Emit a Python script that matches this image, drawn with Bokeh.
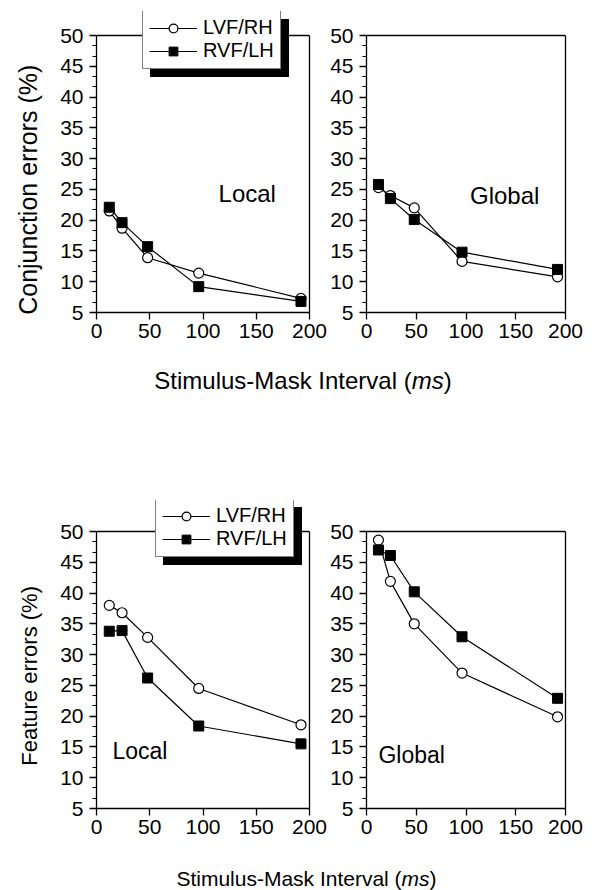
from bokeh.plotting import figure
from bokeh.layouts import column, row
from bokeh.models import (Range1d, SingleIntervalTicker, FixedTicker, Legend,
                          LegendItem, Label, Div, Span, LinearAxis)
from bokeh.core.properties import value
from bokeh.embed import file_html
from bokeh.resources import INLINE

# ---- data -------------------------------------------------------------
interval_ms = [12, 24, 48, 96, 192]
x_ticks = [0, 50, 100, 150, 200]

conj_local_lvf = [21.5, 18.7, 13.9, 11.4, 7.3]
conj_local_rvf = [22.1, 19.6, 15.7, 9.2, 6.8]
conj_global_lvf = [25.3, 24.0, 22.0, 13.3, 10.8]
conj_global_rvf = [25.8, 23.5, 20.1, 14.8, 12.0]

feat_local_lvf = [38.0, 36.8, 32.8, 24.5, 18.6]
feat_local_rvf = [33.8, 33.9, 26.2, 18.4, 15.5]
feat_global_lvf = [48.6, 41.9, 35.0, 27.0, 19.9]
feat_global_rvf = [47.0, 46.1, 40.2, 32.9, 22.9]

series_names = ["LVF/RH", "RVF/LH"]
xlabel_text = "Stimulus-Mask Interval (<i>ms</i>)"

FONT = "Liberation Sans"
FRAME_H = 277          # pixel height of the 5..50 box
Y_LO, Y_HI = 5, 50
NBSP = "\u00a0"        # padding that pushes a y title down along the axis


def panel(width, left, right, top, bottom, headroom=0, ylabel=None, ylabel_size="24px"):
    """One panel; `headroom` adds pixels above the 50 line so the legend can sit there."""
    y_top = Y_HI + headroom * (Y_HI - Y_LO) / FRAME_H
    p = figure(width=width, height=top + headroom + FRAME_H + bottom,
               min_border_left=left, min_border_right=right,
               min_border_top=top, min_border_bottom=bottom,
               x_range=Range1d(0, 200), y_range=Range1d(Y_LO, y_top),
               output_backend="svg", toolbar_location=None, tools="")
    p.grid.visible = False
    p.background_fill_color = "white"
    p.border_fill_color = "white"
    p.xaxis.ticker = FixedTicker(ticks=x_ticks)
    p.yaxis.ticker = SingleIntervalTicker(interval=5, num_minor_ticks=3)
    p.yaxis.bounds = (Y_LO, Y_HI)
    for ax in p.axis:
        ax.axis_line_color = "black"
        ax.axis_line_width = 1.3
        ax.major_tick_line_color = "black"
        ax.major_tick_line_width = 1.3
        ax.major_tick_in = 0
        ax.major_tick_out = 7
        ax.minor_tick_line_color = "black"
        ax.minor_tick_line_width = 1.0
        ax.minor_tick_in = 0
        ax.minor_tick_out = 4
        ax.major_label_text_font = FONT
        ax.major_label_text_font_size = "21px"
        ax.major_label_text_color = "black"
    p.xaxis.minor_tick_line_color = None
    p.xaxis.major_label_standoff = 4
    p.yaxis.major_label_standoff = 6
    if ylabel:
        p.yaxis.axis_label = ylabel
        p.yaxis.axis_label_text_font = FONT
        p.yaxis.axis_label_text_font_size = ylabel_size
        p.yaxis.axis_label_text_font_style = "normal"
        p.yaxis.axis_label_text_color = "black"
        p.yaxis.axis_label_standoff = 15

    # closed box: right edge as a bare axis, top edge as a span at 50
    p.outline_line_color = None
    right_edge = LinearAxis(ticker=FixedTicker(ticks=[]), bounds=(Y_LO, Y_HI),
                            axis_line_color="black", axis_line_width=1.3,
                            major_tick_line_color=None, minor_tick_line_color=None,
                            major_label_text_font_size="0px")
    p.add_layout(right_edge, "right")
    p.add_layout(Span(location=Y_HI, dimension="width", line_color="black",
                      line_width=1.3))
    return p


def draw_series(p, y_lvf, y_rvf):
    l1 = p.line(interval_ms, y_lvf, line_color="black", line_width=1.2)
    l2 = p.line(interval_ms, y_rvf, line_color="black", line_width=1.2)
    c1 = p.scatter(interval_ms, y_lvf, marker="circle", size=10,
                   fill_color="white", line_color="black", line_width=1.2)
    s2 = p.scatter(interval_ms, y_rvf, marker="square", size=10,
                   fill_color="black", line_color="black", line_width=1.0)
    return [(series_names[0], [l1, c1]), (series_names[1], [l2, s2])]


GLYPH_W, STANDOFF, LABEL_W = 48, 6, 71   # LABEL_W: width of "LVF/RH" at 20px
MIN_LABEL_W = 20                          # Legend.label_width default (reserved even when empty)


def legend_style(**kw):
    base = dict(glyph_width=GLYPH_W, glyph_height=22, label_height=22,
                label_standoff=STANDOFF, padding=6, spacing=0, margin=0,
                label_text_font=FONT, label_text_font_size="20px",
                border_line_width=1.2, label_text_color="black")
    base.update(kw)
    return base


def add_legend(p, entries, x, y, shadow=8):
    """Boxed legend with a solid drop shadow; (x, y) = left / bottom offset inside the frame."""
    # shadow: same footprint, no label text, all black
    back_items = [LegendItem(label=value(""), renderers=rs) for _, rs in entries]
    back = Legend(items=back_items, location=(x + shadow, y - shadow),
                  **legend_style(glyph_width=GLYPH_W + STANDOFF + LABEL_W - MIN_LABEL_W,
                                 label_standoff=0,
                                 background_fill_color="black", background_fill_alpha=1.0,
                                 border_line_color="black"))
    items = [LegendItem(label=value(name), renderers=rs) for name, rs in entries]
    front = Legend(items=items, location=(x, y),
                   **legend_style(background_fill_color="white", background_fill_alpha=1.0,
                                  border_line_color="black"))
    p.add_layout(back, "center")
    p.add_layout(front, "center")


def add_label(p, text, x, y, size):
    p.add_layout(Label(x=x, y=y, text=text, text_font=FONT, text_font_size=size,
                       text_color="black", text_baseline="alphabetic", text_align="left"))


def axis_title(size, pad_top, pad_left, height):
    return Div(text=(f'<div style="display:block;width:594px;box-sizing:border-box;'
                     f'font-family:\'{FONT}\';font-size:{size}px;line-height:{size}px;'
                     f'padding-top:{pad_top}px;padding-left:{pad_left}px;'
                     f'text-align:center;color:black;white-space:nowrap;">'
                     f'{xlabel_text}</div>'),
               width=594, height=height, margin=0)


# ---- top row: conjunction errors --------------------------------------
f1 = panel(327, 96, 18, 11, 40, headroom=24,
           ylabel="Conjunction errors (%)" + NBSP * 8, ylabel_size="25px")
e1 = draw_series(f1, conj_local_lvf, conj_local_rvf)
add_legend(f1, e1, 46, 243)
add_label(f1, "Local", 114.6, 24.4, "24px")

f2 = panel(267, 36, 29, 11, 40, headroom=24)
draw_series(f2, conj_global_lvf, conj_global_rvf)
add_label(f2, "Global", 104, 24.0, "24px")

xlab1 = axis_title(24, 17, 12, 60)

# ---- bottom row: feature errors ---------------------------------------
f3 = panel(327, 96, 18, 88, 36, headroom=31,
           ylabel="Feature errors (%)" + NBSP * 7, ylabel_size="22px")
e3 = draw_series(f3, feat_local_lvf, feat_local_rvf)
add_legend(f3, e3, 59, 251)
add_label(f3, "Local", 15, 14.3, "23px")

f4 = panel(267, 36, 29, 88, 36, headroom=31)
draw_series(f4, feat_global_lvf, feat_global_rvf)
add_label(f4, "Global", 12, 13.7, "23px")

xlab2 = axis_title(21, 24, 19, 46)

layout = column(row(f1, f2, spacing=0), xlab1, row(f3, f4, spacing=0), xlab2, spacing=0)

with open("out.html", "w") as fh:
    fh.write(file_html(layout, INLINE))
